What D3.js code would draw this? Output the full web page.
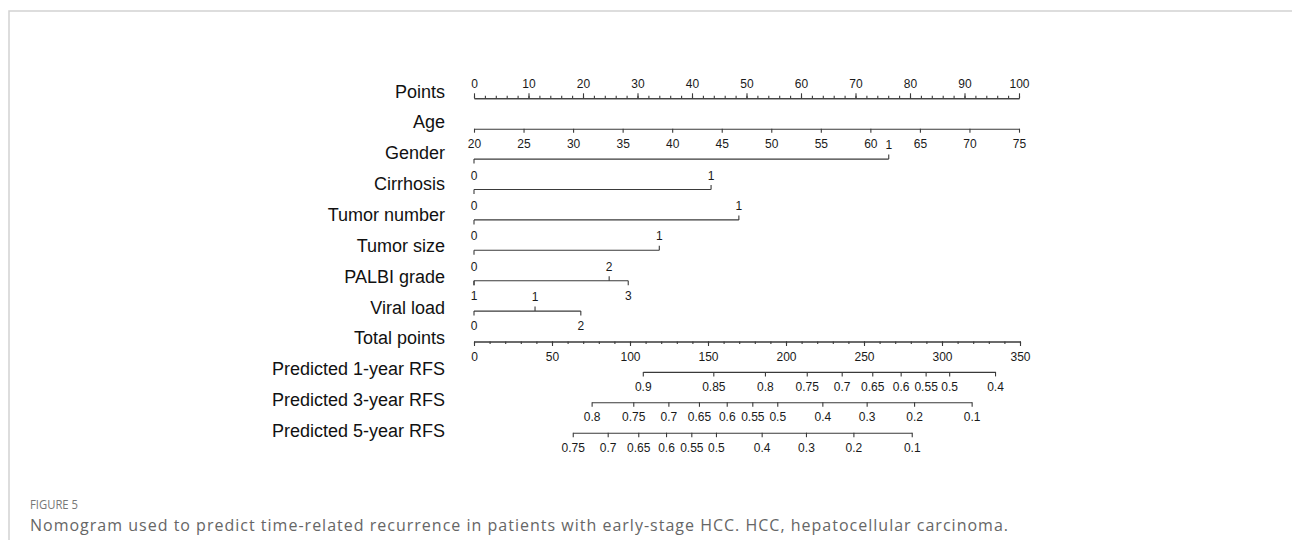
<!DOCTYPE html>
<html>
<head>
<meta charset="utf-8">
<script src="https://cdn.jsdelivr.net/npm/d3@7"></script>
<style>
  body { margin: 0; background: #fff; }
  svg { display: block; }
</style>
</head>
<body>
<div id="chart"></div>
<script>
//------------- data -------------//
var rowNames = ["Points", "Age", "Gender", "Cirrhosis", "Tumor number", "Tumor size",
                "PALBI grade", "Viral load", "Total points",
                "Predicted 1-year RFS", "Predicted 3-year RFS", "Predicted 5-year RFS"];

var pointsTicks = [0, 10, 20, 30, 40, 50, 60, 70, 80, 90, 100];
var ageTicks = [20, 25, 30, 35, 40, 45, 50, 55, 60, 65, 70, 75];
var totalTicks = [0, 50, 100, 150, 200, 250, 300, 350];

var genderLevels = ["0", "1"],            genderPoints = [0, 76.1];
var cirrhosisLevels = ["0", "1"],         cirrhosisPoints = [0, 43.5];
var tumorNumLevels = ["0", "1"],          tumorNumPoints = [0, 48.6];
var tumorSizeLevels = ["0", "1"],         tumorSizePoints = [0, 34.0];
var palbiLevels = ["0", "1", "2", "3"],   palbiPoints = [0, 0, 24.8, 28.3];
var viralLevels = ["0", "1", "2"],        viralPoints = [0, 11.2, 19.6];

var rfs1Probs = [0.9, 0.85, 0.8, 0.75, 0.7, 0.65, 0.6, 0.55, 0.5, 0.4];
var rfs1Points = [108.2, 153.4, 186.5, 213.3, 235.7, 255.3, 273.5, 289.5, 304.6, 334.0];
var rfs3Probs = [0.8, 0.75, 0.7, 0.65, 0.6, 0.55, 0.5, 0.4, 0.3, 0.2, 0.1];
var rfs3Points = [75.4, 102.1, 124.6, 144.2, 162.0, 178.4, 194.4, 223.3, 251.7, 282.1, 319.0];
var rfs5Probs = [0.75, 0.7, 0.65, 0.6, 0.55, 0.5, 0.4, 0.3, 0.2, 0.1];
var rfs5Points = [63.3, 85.7, 105.3, 123.1, 139.3, 155.1, 184.4, 212.8, 243.2, 280.6];

//------------- layout -------------//
var W = 1292, H = 540;
var lineColor = "#3a3a3a", textColor = "#1a1a1a";
var tickFont = "'Liberation Sans', Arial, sans-serif";

// which side each level label sits on
var categorical = [
  {row: "Gender",       levels: genderLevels,    pts: genderPoints,    side: ["none", "up"]},
  {row: "Cirrhosis",    levels: cirrhosisLevels, pts: cirrhosisPoints, side: ["up", "up"]},
  {row: "Tumor number", levels: tumorNumLevels,  pts: tumorNumPoints,  side: ["up", "up"]},
  {row: "Tumor size",   levels: tumorSizeLevels, pts: tumorSizePoints, side: ["up", "up"]},
  {row: "PALBI grade",  levels: palbiLevels,     pts: palbiPoints,     side: ["up", "down", "up", "down"]},
  {row: "Viral load",   levels: viralLevels,     pts: viralPoints,     side: ["down", "up", "down"]}
];
var predicted = [
  {row: "Predicted 1-year RFS", probs: rfs1Probs, pts: rfs1Points},
  {row: "Predicted 3-year RFS", probs: rfs3Probs, pts: rfs3Points},
  {row: "Predicted 5-year RFS", probs: rfs5Probs, pts: rfs5Points}
];

var svg = d3.select("#chart").append("svg")
    .attr("width", W).attr("height", H);

// page frame
svg.append("path")
    .attr("d", "M9,540V11H1292")
    .attr("fill", "none").attr("stroke", "#d2d2d2").attr("stroke-width", 1.5);

//------------- scales -------------//
var y = d3.scalePoint().domain(rowNames).range([98.3, 432.7]);
var yLabel = d3.scalePoint().domain(rowNames).range([97.5, 437]);
var xPts = d3.scaleLinear().domain([0, 100]).range([474, 1019]);
var xTot = d3.scaleLinear().domain([0, 350]).range([474, 1020]);
var ageToPts = d3.scaleLinear().domain([20, 75]).range([0, 100]);
var xAge = d3.scaleLinear().domain([20, 75]).range([xPts(ageToPts(20)), xPts(ageToPts(75))]);

// row labels
svg.append("g").selectAll("text")
  .data(rowNames)
  .enter().append("text")
    .attr("x", 445)
    .attr("y", function(d) { return yLabel(d); })
    .attr("text-anchor", "end")
    .style("font-family", tickFont)
    .style("font-size", "18px")
    .style("fill", "#111")
    .text(function(d) { return d; });

function styleAxis(g) {
  g.select(".domain").attr("stroke", lineColor).attr("stroke-width", 1.1);
  g.selectAll(".tick line").attr("stroke", lineColor).attr("stroke-width", 1.1);
  g.selectAll("text").style("font-family", tickFont).style("font-size", "12px").style("fill", textColor);
  g.attr("font-family", null).attr("font-size", null);
}

//------------- Points -------------//
svg.append("g")
    .attr("transform", "translate(0," + y("Points") + ")")
    .call(d3.axisTop(xPts).tickValues(d3.range(0, 101, 2)).tickFormat("").tickSize(2.5).tickSizeOuter(0))
    .call(styleAxis);
svg.append("g")
    .attr("transform", "translate(0," + y("Points") + ")")
    .call(d3.axisTop(xPts).tickValues(pointsTicks).tickFormat(d3.format("d")).tickSize(5).tickPadding(5).tickSizeOuter(0))
    .call(styleAxis);

//------------- Age -------------//
svg.append("g")
    .attr("transform", "translate(0," + y("Age") + ")")
    .call(d3.axisBottom(xAge).tickValues(ageTicks).tickFormat(d3.format("d")).tickSize(4).tickPadding(6.5).tickSizeOuter(0))
    .call(styleAxis);

//------------- categorical rows -------------//
categorical.forEach(function(v) {
  var g = svg.append("g").attr("transform", "translate(0," + y(v.row) + ")");
  var lo = d3.min(v.pts);
  g.append("line")
      .attr("x1", xPts(lo)).attr("x2", xPts(d3.max(v.pts)))
      .attr("stroke", lineColor).attr("stroke-width", 1.1);
  var items = v.levels.map(function(l, i) { return {label: l, p: v.pts[i], side: v.side[i]}; });
  g.selectAll("line.tk")
    .data(items)
    .enter().append("line")
      .attr("class", "tk")
      .attr("x1", function(d) { return xPts(d.p); })
      .attr("x2", function(d) { return xPts(d.p); })
      .attr("y1", 0)
      .attr("y2", function(d) { return (d.p === lo || d.side !== "up") ? 4.5 : -4.5; })
      .attr("stroke", lineColor).attr("stroke-width", 1.1);
  g.selectAll("text")
    .data(items.filter(function(d) { return d.side !== "none"; }))
    .enter().append("text")
      .attr("x", function(d) { return xPts(d.p); })
      .attr("y", function(d) { return d.side === "up" ? -10 : 19; })
      .attr("text-anchor", "middle")
      .style("font-family", tickFont).style("font-size", "12px").style("fill", textColor)
      .text(function(d) { return d.label; });
});

//------------- Total points -------------//
svg.append("g")
    .attr("transform", "translate(0," + y("Total points") + ")")
    .call(d3.axisBottom(xTot).tickValues(d3.range(0, 351, 10)).tickFormat("").tickSize(2.5).tickSizeOuter(0))
    .call(styleAxis);
svg.append("g")
    .attr("transform", "translate(0," + y("Total points") + ")")
    .call(d3.axisBottom(xTot).tickValues(totalTicks).tickFormat(d3.format("d")).tickSize(4.5).tickPadding(6).tickSizeOuter(0))
    .call(styleAxis);

//------------- predicted RFS -------------//
predicted.forEach(function(r) {
  var sc = d3.scaleOrdinal().domain(r.probs).range(r.pts.map(function(p) { return xTot(p); }));
  svg.append("g")
      .attr("transform", "translate(0," + y(r.row) + ")")
      .call(d3.axisBottom(sc).tickValues(r.probs).tickFormat(function(d) { return String(d); })
              .tickSize(4.5).tickPadding(6).tickSizeOuter(0))
      .call(styleAxis);
});

//------------- caption -------------//
svg.append("text")
    .attr("x", 30).attr("y", 509)
    .attr("textLength", 48).attr("lengthAdjust", "spacingAndGlyphs")
    .style("font-family", "'Open Sans', sans-serif").style("font-size", "13px")
    .style("fill", "#777")
    .text("FIGURE 5");
svg.append("text")
    .attr("x", 30).attr("y", 531)
    .attr("textLength", 978).attr("lengthAdjust", "spacing")
    .style("font-family", "'Open Sans', sans-serif").style("font-size", "16px")
    .style("fill", "#666")
    .text("Nomogram used to predict time-related recurrence in patients with early-stage HCC. HCC, hepatocellular carcinoma.");
</script>
</body>
</html>
